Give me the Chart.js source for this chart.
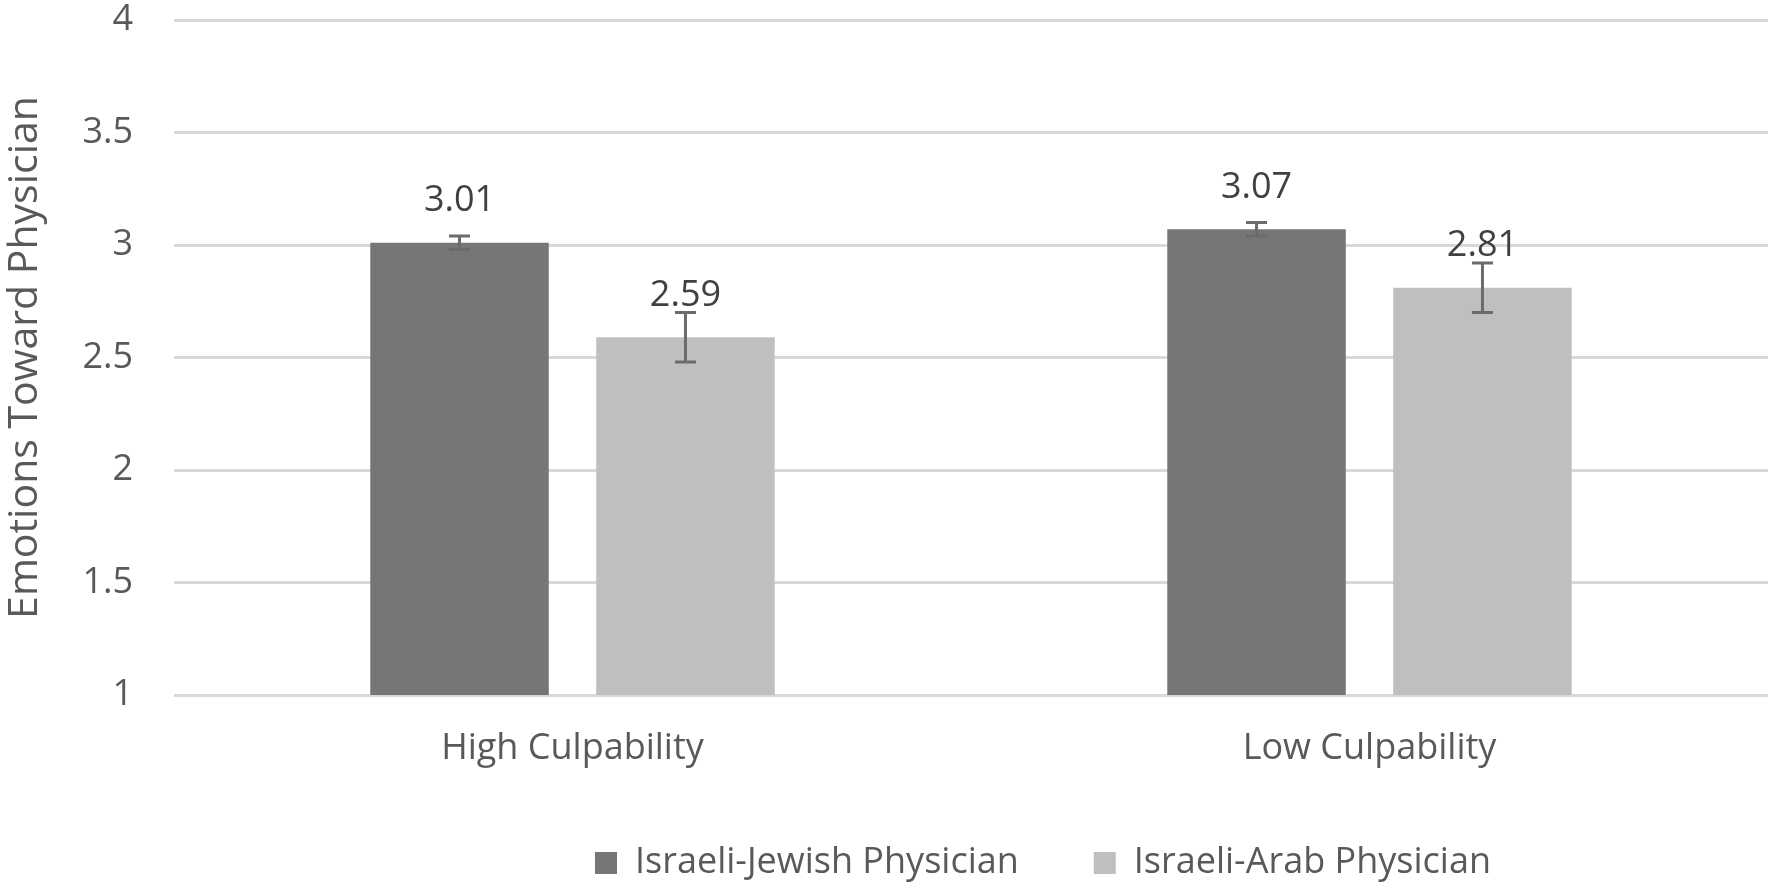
<!DOCTYPE html>
<html>
<head>
<meta charset="utf-8">
<script src="https://cdn.jsdelivr.net/npm/chart.js@4.4.1/dist/chart.umd.min.js"></script>
<style>
  html, body { margin: 0; padding: 0; background: #fff; }
  #wrap { width: 1772px; height: 886px; }
</style>
</head>
<body>
<div id="wrap"><canvas id="chart"></canvas></div>
<script>
// data
const categories = ["High Culpability", "Low Culpability"];
const seriesNames = ["Israeli-Jewish Physician", "Israeli-Arab Physician"];
const jewishValues = [3.01, 3.07];
const arabValues = [2.59, 2.81];
const jewishErrors = [0.03, 0.03];
const arabErrors = [0.11, 0.11];
const yTicks = [1, 1.5, 2, 2.5, 3, 3.5, 4];

const FONT = "'Open Sans', 'Noto Sans', sans-serif";

// error bars + value labels, drawn through the chart's own scales
const errorBarPlugin = {
  id: "errorBars",
  beforeInit(chart) {
    // fixed legend height so the row sits where the original has it
    const fit = chart.legend.fit;
    chart.legend.fit = function () {
      fit.call(this);
      this.height = 116;
    };
  },
  afterLayout(chart) {
    // the original legend is centred a bit right of the canvas middle
    chart.legend.left = 318;
  },
  afterDatasetsDraw(chart) {
    const ctx = chart.ctx;
    const yScale = chart.scales.y;
    chart.data.datasets.forEach((ds, i) => {
      const meta = chart.getDatasetMeta(i);
      meta.data.forEach((bar, j) => {
        const v = ds.data[j];
        const e = ds.errors[j];
        const yTop = yScale.getPixelForValue(v + e);
        const yBot = yScale.getPixelForValue(v - e);
        ctx.save();
        ctx.strokeStyle = "#6b6b6b";
        ctx.lineWidth = 3;
        ctx.beginPath();
        ctx.moveTo(bar.x, yTop);
        ctx.lineTo(bar.x, yBot);
        ctx.moveTo(bar.x - 10.5, yTop);
        ctx.lineTo(bar.x + 10.5, yTop);
        ctx.moveTo(bar.x - 10.5, yBot);
        ctx.lineTo(bar.x + 10.5, yBot);
        ctx.stroke();

        ctx.fillStyle = "#404040";
        ctx.font = "36px " + FONT;
        ctx.textAlign = "center";
        ctx.textBaseline = "middle";
        ctx.fillText(v.toFixed(2), bar.x, yScale.getPixelForValue(v) - 42);
        ctx.restore();
      });
    });
  }
};

new Chart(document.getElementById("chart"), {
  type: "bar",
  data: {
    labels: categories,
    datasets: [
      {
        label: seriesNames[0],
        data: jewishValues,
        errors: jewishErrors,
        backgroundColor: "#767676",
        barPercentage: 0.79,
        categoryPercentage: 0.567
      },
      {
        label: seriesNames[1],
        data: arabValues,
        errors: arabErrors,
        backgroundColor: "#bfbfbf",
        barPercentage: 0.79,
        categoryPercentage: 0.567
      }
    ]
  },
  options: {
    responsive: true,
    maintainAspectRatio: false,
    animation: false,
    layout: { padding: { top: 20, right: 4, left: 0, bottom: 0 } },
    plugins: {
      tooltip: { enabled: false },
      legend: {
        position: "bottom",
        labels: {
          font: { family: FONT, size: 36 },
          color: "#595959",
          boxWidth: 22,
          boxHeight: 22,
          padding: 75
        }
      }
    },
    scales: {
      x: {
        grid: { display: false },
        border: { display: false },
        ticks: {
          font: { family: FONT, size: 36 },
          color: "#595959",
          padding: 24
        },
        afterFit(s) { s.height = 75; }
      },
      y: {
        min: 1,
        max: 4,
        afterBuildTicks(s) { s.ticks = yTicks.map(v => ({ value: v })); },
        grid: { color: "#d9d9d9", lineWidth: 3, drawTicks: false },
        border: { display: false },
        ticks: {
          font: { family: FONT, size: 36 },
          color: "#595959",
          padding: 41,
          callback: v => String(v)
        },
        title: {
          display: true,
          text: "Emotions Toward Physician",
          font: { family: FONT, size: 41 },
          color: "#595959",
          padding: { top: 1, bottom: 0 }
        },
        afterFit(s) {
          s.width = 174;
          s.paddingTop = 0;
          s.paddingBottom = 0;
        }
      }
    }
  },
  plugins: [errorBarPlugin]
});
</script>
</body>
</html>
